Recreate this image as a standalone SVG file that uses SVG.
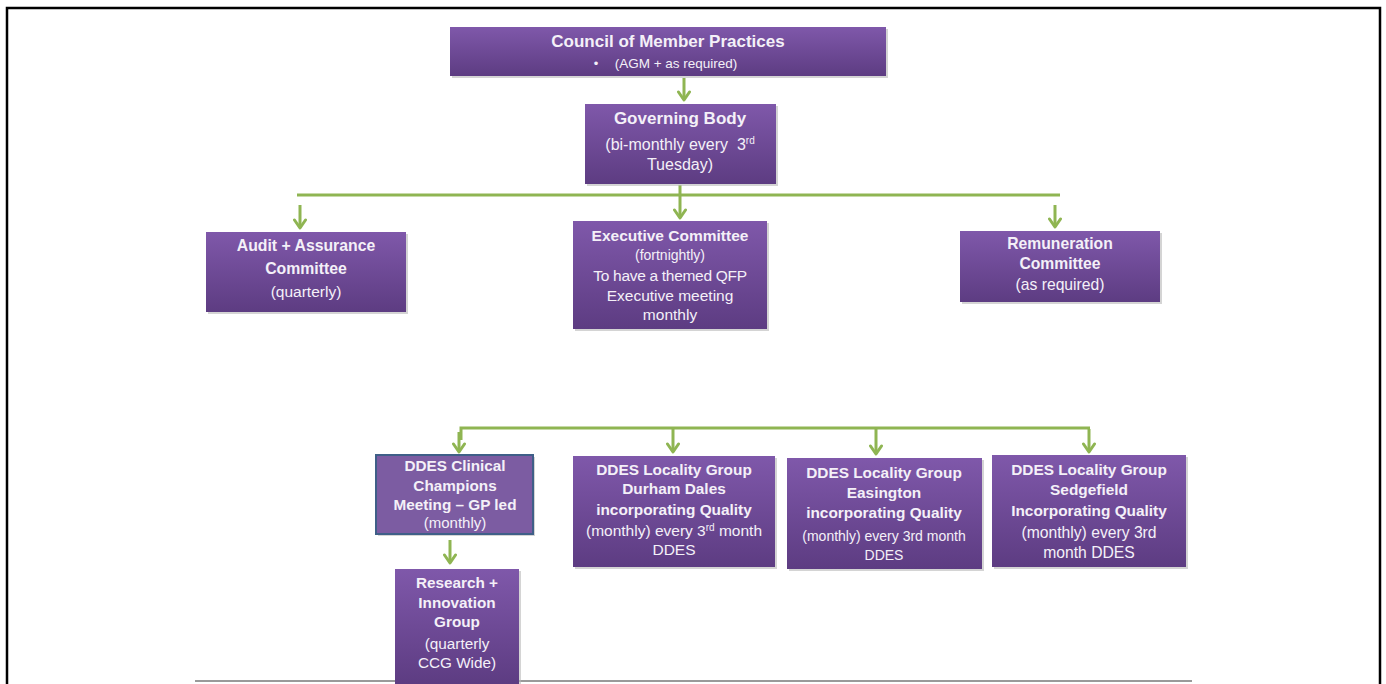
<svg xmlns="http://www.w3.org/2000/svg" width="1386" height="684" viewBox="0 0 1386 684">
<defs>
<linearGradient id="pg" x1="0" y1="0" x2="0" y2="1">
<stop offset="0" stop-color="#7f58aa"/>
<stop offset="1" stop-color="#5d3c82"/>
</linearGradient>
<marker id="ah" viewBox="0 0 12 14" markerWidth="12" markerHeight="14" refX="10" refY="7" orient="auto" markerUnits="userSpaceOnUse">
<polyline points="2,1.5 10,7 2,12.5" fill="none" stroke="#8fb552" stroke-width="3" stroke-linecap="round" stroke-linejoin="round"/>
</marker>
</defs>
<style>
.box{fill:url(#pg);}
.sh{fill:#b8b8b8;opacity:0.6;}
.t{font-family:"Liberation Sans",Arial,sans-serif;fill:#f4f0f8;text-anchor:middle;}
.b{font-weight:bold;}
.ln{stroke:#8fb552;stroke-width:3;fill:none;}
.ar{stroke:#8fb552;stroke-width:3;fill:none;marker-end:url(#ah);}
</style>
<rect x="0" y="0" width="1386" height="684" fill="#ffffff"/>
<path d="M7,684 V8 H1380 V684" fill="none" stroke="#000" stroke-width="2.5"/>
<line x1="195" y1="681" x2="1192" y2="681" stroke="#9a9a9a" stroke-width="2"/>

<g id="connectors">
<line class="ar" x1="684" y1="78" x2="684" y2="100"/>
<line class="ln" x1="680" y1="185" x2="680" y2="195"/>
<line class="ln" x1="297" y1="195" x2="1060" y2="195"/>
<line class="ar" x1="300" y1="205" x2="300" y2="228"/>
<line class="ar" x1="680" y1="195" x2="680" y2="218"/>
<line class="ar" x1="1055" y1="205" x2="1055" y2="227"/>
<polyline class="ln" points="461,440 461,428 1090,428"/>
<line class="ar" x1="459" y1="432" x2="459" y2="452"/>
<line class="ar" x1="673" y1="429" x2="673" y2="452"/>
<line class="ar" x1="876" y1="429" x2="876" y2="454"/>
<line class="ar" x1="1089" y1="429" x2="1089" y2="452"/>
<line class="ar" x1="450" y1="540" x2="450" y2="563"/>
</g>

<g id="council">
<rect class="sh" x="452" y="29" width="436" height="49"/>
<rect class="box" x="450" y="27" width="436" height="49"/>
<text class="t b" x="668" y="47" font-size="17">Council of Member Practices</text>
<text class="t" x="596" y="68" font-size="13">•</text>
<text class="t" x="676" y="68" font-size="13.5">(AGM + as required)</text>
</g>

<g id="governing">
<rect class="sh" x="587" y="106" width="191" height="80"/>
<rect class="box" x="585" y="104" width="191" height="80"/>
<text class="t b" x="680" y="124" font-size="17">Governing Body</text>
<text class="t" x="680" y="150" font-size="16" xml:space="preserve">(bi-monthly every  3<tspan font-size="10" dy="-6">rd</tspan></text>
<text class="t" x="680" y="170" font-size="16">Tuesday)</text>
</g>

<g id="audit">
<rect class="sh" x="208" y="234" width="200" height="80"/>
<rect class="box" x="206" y="232" width="200" height="80"/>
<text class="t b" x="306" y="251" font-size="15.8">Audit + Assurance</text>
<text class="t b" x="306" y="274" font-size="15.8">Committee</text>
<text class="t" x="306" y="297" font-size="15.5">(quarterly)</text>
</g>

<g id="executive">
<rect class="sh" x="575" y="223" width="194" height="108"/>
<rect class="box" x="573" y="221" width="194" height="108"/>
<text class="t b" x="670" y="241" font-size="15.5">Executive Committee</text>
<text class="t" x="670" y="260" font-size="14">(fortnightly)</text>
<text class="t" x="670" y="281" font-size="15.5" letter-spacing="-0.3">To have a themed QFP</text>
<text class="t" x="670" y="301" font-size="15.5">Executive meeting</text>
<text class="t" x="670" y="320" font-size="15.5">monthly</text>
</g>

<g id="remuneration">
<rect class="sh" x="962" y="233" width="200" height="71"/>
<rect class="box" x="960" y="231" width="200" height="71"/>
<text class="t b" x="1060" y="249" font-size="15.7">Remuneration</text>
<text class="t b" x="1060" y="269" font-size="15.7">Committee</text>
<text class="t" x="1060" y="290" font-size="15.7">(as required)</text>
</g>

<g id="clinical">
<rect class="sh" x="378" y="457" width="157" height="79"/>
<rect x="376" y="455" width="157" height="79" fill="#7c5ca2" stroke="#3f5f88" stroke-width="2"/>
<text class="t b" x="455" y="471" font-size="15.3">DDES Clinical</text>
<text class="t b" x="455" y="491" font-size="15.3">Champions</text>
<text class="t b" x="455" y="510" font-size="15.3">Meeting – GP led</text>
<text class="t" x="455" y="528" font-size="15">(monthly)</text>
</g>

<g id="research">
<rect class="sh" x="397" y="571" width="124" height="113"/>
<rect class="box" x="395" y="569" width="124" height="115"/>
<text class="t b" x="457" y="588" font-size="15.3">Research +</text>
<text class="t b" x="457" y="608" font-size="15.3">Innovation</text>
<text class="t b" x="457" y="627" font-size="15.3">Group</text>
<text class="t" x="457" y="649" font-size="15.3">(quarterly</text>
<text class="t" x="457" y="668" font-size="15.3">CCG Wide)</text>
</g>

<g id="durham">
<rect class="sh" x="575" y="458" width="202" height="111"/>
<rect class="box" x="573" y="456" width="202" height="111"/>
<text class="t b" x="674" y="475" font-size="15.4">DDES Locality Group</text>
<text class="t b" x="674" y="494" font-size="15.4">Durham Dales</text>
<text class="t b" x="674" y="515" font-size="15.4">incorporating Quality</text>
<text class="t" x="674" y="536" font-size="15.5">(monthly) every 3<tspan font-size="10" dy="-5">rd</tspan><tspan dy="5"> month</tspan></text>
<text class="t" x="674" y="555" font-size="15.5">DDES</text>
</g>

<g id="easington">
<rect class="sh" x="789" y="460" width="195" height="111"/>
<rect class="box" x="787" y="458" width="195" height="111"/>
<text class="t b" x="884" y="478" font-size="15.4">DDES Locality Group</text>
<text class="t b" x="884" y="498" font-size="15.4">Easington</text>
<text class="t b" x="884" y="518" font-size="15.4">incorporating Quality</text>
<text class="t" x="884" y="541" font-size="14">(monthly) every 3rd month</text>
<text class="t" x="884" y="560" font-size="14">DDES</text>
</g>

<g id="sedgefield">
<rect class="sh" x="994" y="457" width="194" height="112"/>
<rect class="box" x="992" y="455" width="194" height="112"/>
<text class="t b" x="1089" y="475" font-size="15.4">DDES Locality Group</text>
<text class="t b" x="1089" y="495" font-size="15.4">Sedgefield</text>
<text class="t b" x="1089" y="516" font-size="15.4">Incorporating Quality</text>
<text class="t" x="1089" y="538" font-size="15.7">(monthly) every 3rd</text>
<text class="t" x="1089" y="558" font-size="15.7">month DDES</text>
</g>
</svg>
